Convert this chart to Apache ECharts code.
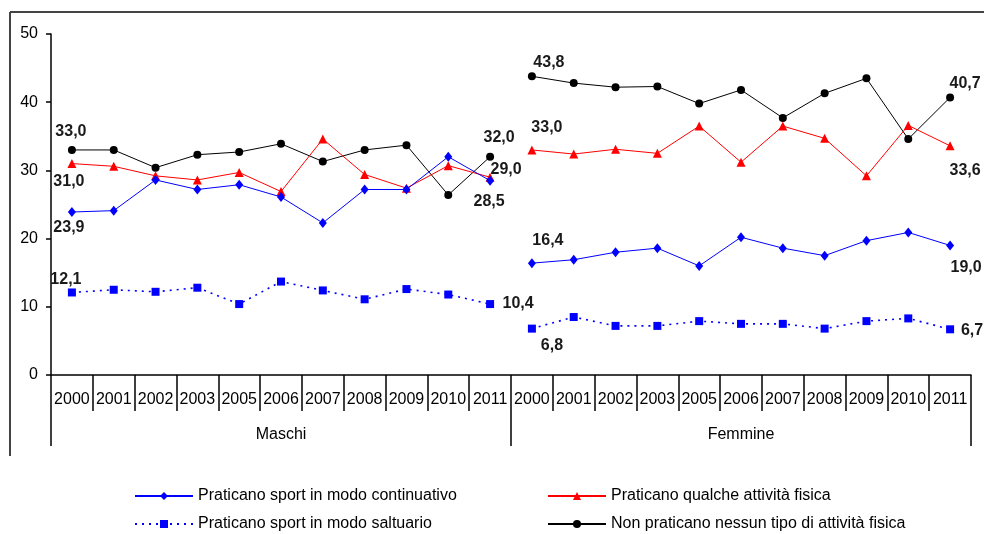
<!DOCTYPE html>
<html>
<head>
<meta charset="utf-8">
<script src="https://cdn.jsdelivr.net/npm/echarts@6/dist/echarts.min.js"></script>
<style>
  html, body { margin: 0; padding: 0; background: #fff; }
  #chart { width: 984px; height: 534px; }
</style>
</head>
<body>
<div id="chart"></div>
<script>
// anni per ciascun gruppo (manca il 2004)
const years = ['2000', '2001', '2002', '2003', '2005', '2006', '2007', '2008', '2009', '2010', '2011'];
const groups = ['Maschi', 'Femmine'];
const yTicks = [0, 10, 20, 30, 40, 50];

const seriesNames = [
  'Praticano sport in modo continuativo',
  'Praticano qualche attività fisica',
  'Praticano sport in modo saltuario',
  'Non praticano nessun tipo di attività fisica'
];

// Maschi
const maschiContinuativo = [23.9, 24.1, 28.6, 27.2, 27.9, 26.1, 22.3, 27.2, 27.2, 32.0, 28.5];
const maschiQualche      = [31.0, 30.6, 29.2, 28.6, 29.7, 26.9, 34.6, 29.4, 27.4, 30.7, 29.0];
const maschiSaltuario    = [12.1, 12.5, 12.2, 12.8, 10.4, 13.7, 12.4, 11.1, 12.6, 11.8, 10.4];
const maschiNessuna      = [33.0, 33.0, 30.4, 32.3, 32.7, 33.9, 31.3, 33.0, 33.7, 26.4, 32.0];

// Femmine
const femmineContinuativo = [16.4, 16.9, 18.0, 18.6, 16.0, 20.2, 18.6, 17.5, 19.7, 20.9, 19.0];
const femmineQualche      = [33.0, 32.4, 33.1, 32.5, 36.5, 31.2, 36.5, 34.7, 29.2, 36.6, 33.6];
const femmineSaltuario    = [6.8, 8.5, 7.2, 7.2, 7.9, 7.5, 7.5, 6.8, 7.9, 8.3, 6.7];
const femmineNessuna      = [43.8, 42.8, 42.2, 42.3, 39.8, 41.8, 37.7, 41.3, 43.5, 34.6, 40.7];

// spostamento delle etichette (primo / ultimo punto di ogni gruppo)
const labelOffsets = {
  maschi: [
    { first: [-3, 16], last: [-1, 21] },
    { first: [-3, 18], last: [16, -8] },
    { first: [-6, -13], last: [28, 0] },
    { first: [-1, -18], last: [9, -19] }
  ],
  femmine: [
    { first: [16, -23], last: [16, 22] },
    { first: [15, -22], last: [15, 25] },
    { first: [20, 17], last: [22, 1] },
    { first: [17, -14], last: [15, -14] }
  ]
};

const styles = [
  { color: '#0000ff', symbol: 'diamond', size: [8, 10], line: 'solid', width: 1 },
  { color: '#ff0000', symbol: 'triangle', size: 9, line: 'solid', width: 1 },
  { color: '#0000ff', symbol: 'rect', size: 8, line: [2, 5], width: 1.6 },
  { color: '#000000', symbol: 'circle', size: 8, line: 'solid', width: 1 }
];

const allYears = years.concat(years);
const fmt = v => v.toFixed(1).replace('.', ',');

function buildData(values, groupIndex, offsets) {
  const out = [];
  for (let i = 0; i < allYears.length; i++) out.push('-');
  values.forEach((v, i) => {
    const idx = groupIndex * years.length + i;
    if (i === 0 || i === values.length - 1) {
      out[idx] = {
        value: v,
        label: {
          show: true,
          position: 'inside',
          offset: i === 0 ? offsets.first : offsets.last,
          formatter: p => fmt(p.value),
          color: '#1a1a1a',
          fontWeight: 'bold',
          fontSize: 16,
          fontFamily: 'Liberation Sans'
        }
      };
    } else {
      out[idx] = v;
    }
  });
  return out;
}

const maschi = [maschiContinuativo, maschiQualche, maschiSaltuario, maschiNessuna];
const femmine = [femmineContinuativo, femmineQualche, femmineSaltuario, femmineNessuna];

const series = [];
[maschi, femmine].forEach((grp, g) => {
  grp.forEach((vals, k) => {
    const s = styles[k];
    series.push({
      name: seriesNames[k],
      type: 'line',
      xAxisIndex: 0,
      yAxisIndex: 0,
      symbol: s.symbol,
      symbolSize: s.size,
      connectNulls: false,
      itemStyle: { color: s.color },
      lineStyle: { color: s.color, width: s.width, type: s.line },
      z: 4 - k,
      data: buildData(vals, g, g === 0 ? labelOffsets.maschi[k] : labelOffsets.femmine[k])
    });
  });
});

const legendPos = [[129, 483], [542, 483], [129, 511], [542, 511]];
const legends = seriesNames.map((n, i) => ({
  data: [n],
  left: legendPos[i][0],
  top: legendPos[i][1],
  itemWidth: 58,
  itemHeight: 10,
  selectedMode: false,
  textStyle: { fontSize: 16, color: '#000', fontFamily: 'Liberation Sans' }
}));

const option = {
  animation: false,
  backgroundColor: '#fff',
  textStyle: { fontFamily: 'Liberation Sans' },
  grid: { left: 51, right: 13, top: 34, bottom: 159 },
  legend: legends,
  xAxis: [
    {
      type: 'category',
      position: 'bottom',
      data: allYears,
      axisLine: { show: true, lineStyle: { color: '#000', width: 1.5 } },
      axisTick: { show: true, length: 36, lineStyle: { color: '#000', width: 1.5 } },
      axisLabel: { interval: 0, margin: 17, fontSize: 16, color: '#000' },
      splitLine: { show: false }
    },
    {
      type: 'category',
      position: 'bottom',
      offset: 0,
      data: groups,
      axisLine: { show: false },
      axisTick: { show: true, length: 71, lineStyle: { color: '#000', width: 1.5 } },
      axisLabel: { interval: 0, margin: 52, fontSize: 16, color: '#000' },
      splitLine: { show: false }
    }
  ],
  yAxis: {
    type: 'value',
    min: yTicks[0],
    max: yTicks[yTicks.length - 1],
    interval: 10,
    axisLine: { show: true, lineStyle: { color: '#000', width: 1.5 } },
    axisTick: { show: true, length: 5, lineStyle: { color: '#000', width: 1.5 } },
    axisLabel: { margin: 13, fontSize: 16, color: '#000' },
    splitLine: { show: false }
  },
  graphic: [
    { type: 'line', shape: { x1: 10, y1: 12, x2: 984, y2: 12 }, style: { stroke: '#444', lineWidth: 2 } },
    { type: 'line', shape: { x1: 10, y1: 12, x2: 10, y2: 456 }, style: { stroke: '#444', lineWidth: 2 } }
  ],
  series: series
};

const myChart = echarts.init(document.getElementById('chart'));
myChart.setOption(option);
window.addEventListener('resize', () => {
  myChart.resize();
});
</script>
</body>
</html>
